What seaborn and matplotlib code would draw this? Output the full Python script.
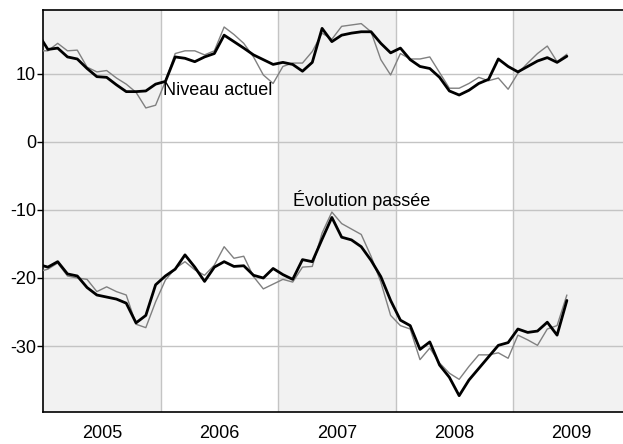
import matplotlib
matplotlib.use("Agg")
import matplotlib.pyplot as plt
import numpy as np
import pandas as pd
import seaborn as sns

# monthly values, Dec 2004 .. Jun 2009 (points sit mid-month)
niveau_main = [15.9, 13.6, 13.8, 12.5, 12.2, 10.8, 9.6, 9.5, 8.4, 7.4, 7.4, 7.5, 8.5,
               8.9, 12.5, 12.3, 11.8, 12.5, 13.0, 15.7, 14.75, 13.8, 12.8, 12.1, 11.4,
               11.7, 11.4, 10.4, 11.7, 16.7, 14.75, 15.7, 16.0, 16.2, 16.2, 14.5, 13.1,
               13.8, 12.1, 11.1, 10.8, 9.5, 7.5, 6.9, 7.6, 8.6, 9.2, 12.2, 11.1,
               10.3, 11.1, 11.9, 12.4, 11.7, 12.6]
niveau_other = [13.4, 13.4, 14.5, 13.4, 13.5, 11.0, 10.3, 10.5, 9.4, 8.5, 7.3, 5.0, 5.4,
                8.9, 13.0, 13.4, 13.4, 12.8, 13.4, 16.9, 15.8, 14.5, 12.5, 9.85, 8.6,
                11.1, 11.6, 11.6, 13.3, 16.0, 15.1, 17.0, 17.2, 17.4, 16.2, 12.1, 9.85,
                13.0, 12.2, 12.2, 12.5, 10.2, 7.9, 7.9, 8.6, 9.5, 9.0, 9.4, 7.75,
                10.1, 11.6, 13.0, 14.1, 11.8, 12.9]
evol_main = [-18.0, -18.4, -17.6, -19.4, -19.7, -21.4, -22.5, -22.8, -23.1, -23.7, -26.6,
             -25.5, -21.0, -19.7, -18.7, -16.6, -18.4, -20.5, -18.4, -17.6, -18.3, -18.2,
             -19.6, -20.0, -18.6, -19.5, -20.2, -17.3, -17.6, -14.3, -11.1, -14.0, -14.4,
             -15.4, -17.4, -19.8, -23.3, -26.2, -27.0, -30.5, -29.4, -32.8, -34.6, -37.3,
             -35.0, -33.3, -31.6, -29.9, -29.5, -27.5, -28.0, -27.8, -26.5, -28.4, -23.3]
evol_other = [-19.1, -18.7, -17.8, -19.7, -20.0, -20.2, -22.0, -21.3, -22.0, -22.5, -26.8,
              -27.3, -23.5, -20.3, -18.6, -17.6, -18.8, -19.6, -18.1, -15.4, -17.1, -16.8,
              -19.8, -21.6, -20.9, -20.2, -20.6, -18.4, -18.3, -13.4, -10.3, -12.0, -12.8,
              -13.6, -16.8, -20.6, -25.5, -27.0, -27.5, -32.0, -30.3, -32.5, -34.0, -34.9,
              -33.0, -31.3, -31.3, -31.0, -31.8, -28.4, -29.1, -29.9, -27.5, -27.0, -22.5]
years = [2005, 2006, 2007, 2008, 2009]
y_ticks = [10, 0, -10, -20, -30]

months = np.arange(-1, len(niveau_main) - 1)
t = 2005 + (months + 0.5) / 12
df = pd.DataFrame({"t": t, "niveau_main": niveau_main, "niveau_other": niveau_other,
                   "evol_main": evol_main, "evol_other": evol_other})

sns.set_theme(style="white")
plt.rcParams["font.family"] = ["Liberation Sans", "DejaVu Sans"]
plt.rcParams["axes.unicode_minus"] = False
plt.rcParams["text.color"] = "black"
plt.rcParams["xtick.color"] = "black"
plt.rcParams["ytick.color"] = "black"

FS = 13

fig = plt.figure(figsize=(6.23, 4.44), dpi=100)
ax = fig.add_axes([43 / 623, 1 - 412 / 444, 1 - 43 / 623, (412 - 10) / 444])

x0, x1 = 2005.0, 2009.936
for yr in years:
    if (yr - 2005) % 2 == 0:
        ax.axvspan(yr, min(yr + 1, x1 + 1), color="#f2f2f2", lw=0, zorder=0)
    if yr > 2005:
        ax.axvline(yr, color="#c4c4c4", lw=1, zorder=1)
for v in y_ticks:
    ax.axhline(v, color="#c4c4c4", lw=1, zorder=1)

for col, c, lw in [("niveau_other", "#808080", 1.0), ("evol_other", "#808080", 1.0),
                   ("niveau_main", "black", 2.0), ("evol_main", "black", 2.0)]:
    sns.lineplot(data=df, x="t", y=col, color=c, lw=lw, ax=ax, zorder=3)

ax.text(2006.02, 7.6, "Niveau actuel", fontsize=FS, color="black", va="center", ha="left", zorder=4)
ax.text(2007.13, -8.6, "Évolution passée", fontsize=FS, color="black", va="center", ha="left", zorder=4)

ax.set_xlim(x0, x1)
ax.set_ylim(-39.7, 19.4)
ax.set_yticks(y_ticks)
ax.set_yticklabels([str(v) for v in y_ticks])
ax.set_xticks([y + 0.5 for y in years])
ax.set_xticklabels([str(y) for y in years])
ax.tick_params(axis="y", left=True, length=4, width=1, color="black", labelsize=FS, pad=1)
ax.tick_params(axis="x", length=0, labelsize=FS, pad=9)
ax.set_xlabel("")
ax.set_ylabel("")
for side in ["left", "top", "bottom"]:
    ax.spines[side].set_color("black")
    ax.spines[side].set_linewidth(1.2)
ax.spines["right"].set_visible(False)

fig.savefig("out.png", dpi=100)
